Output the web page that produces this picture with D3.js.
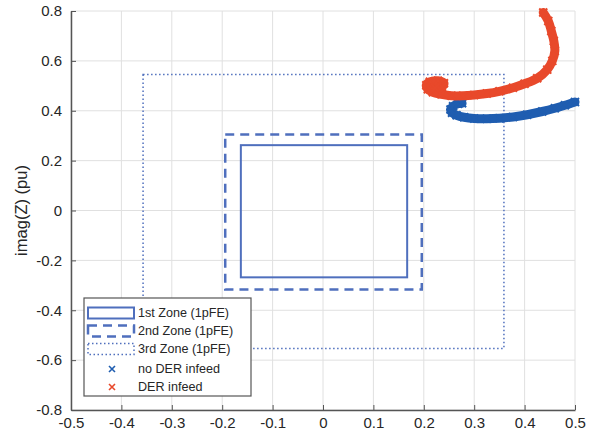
<!DOCTYPE html>
<html>
<head>
<meta charset="utf-8">
<script src="https://cdn.jsdelivr.net/npm/d3@7"></script>
<style>
  html, body { margin: 0; padding: 0; background: #fff; }
  svg { display: block; font-family: "Liberation Sans", Arial, Helvetica, sans-serif; }
</style>
</head>
<body>
<svg id="chart" width="593" height="441"></svg>
<script>
// Tick values
const xTicks = [-0.5, -0.4, -0.3, -0.2, -0.1, 0, 0.1, 0.2, 0.3, 0.4, 0.5];
const yTicks = [-0.8, -0.6, -0.4, -0.2, 0, 0.2, 0.4, 0.6, 0.8];

// Protection zones (rectangles in the impedance plane)
const zoneNames = ["1st Zone (1pFE)", "2nd Zone (1pFE)", "3rd Zone (1pFE)"];
const zoneReMin = [-0.163, -0.194, -0.357];
const zoneReMax = [0.167, 0.196, 0.359];
const zoneImMin = [-0.268, -0.317, -0.553];
const zoneImMax = [0.262, 0.305, 0.545];

// Apparent impedance trajectories
const seriesNames = ["no DER infeed", "DER infeed"];
const blueRe = [0.500, 0.480, 0.460, 0.435, 0.405, 0.377, 0.350, 0.325, 0.300, 0.280, 0.265, 0.256, 0.253, 0.258, 0.268, 0.276];
const blueIm = [0.435, 0.422, 0.410, 0.397, 0.384, 0.375, 0.370, 0.368, 0.369, 0.374, 0.382, 0.392, 0.405, 0.418, 0.428, 0.430];
const redRe = [0.437, 0.447, 0.453, 0.458, 0.460, 0.455, 0.445, 0.425, 0.400, 0.377, 0.350, 0.325, 0.300, 0.278, 0.255, 0.235, 0.218, 0.208, 0.205, 0.212, 0.228, 0.240, 0.236, 0.222];
const redIm = [0.794, 0.760, 0.720, 0.680, 0.640, 0.600, 0.565, 0.530, 0.508, 0.492, 0.478, 0.469, 0.463, 0.460, 0.460, 0.466, 0.474, 0.486, 0.502, 0.516, 0.520, 0.510, 0.496, 0.492];

const zoneColor = "#4f6fbd";
const blue = "#1f5db0";
const red = "#e8492b";
const axisColor = "#555";
const textColor = "#262626";
const tickFont = 15;
const titleFont = 16.5;
const legendFont = 12.6;

const svg = d3.select("#chart");
svg.append("rect").attr("width", 593).attr("height", 441).attr("fill", "#fff");

const x = d3.scaleLinear().domain([-0.5, 0.5]).range([71, 575]);
const y = d3.scaleLinear().domain([-0.8, 0.8]).range([410, 11]);

// Grid
const grid = svg.append("g");
grid.selectAll(".gx").data(xTicks).enter().append("line")
  .attr("x1", d => x(d)).attr("x2", d => x(d))
  .attr("y1", y(-0.8)).attr("y2", y(0.8))
  .attr("stroke", "#e0e0e0").attr("stroke-width", 1);
grid.selectAll(".gy").data(yTicks).enter().append("line")
  .attr("x1", x(-0.5)).attr("x2", x(0.5))
  .attr("y1", d => y(d)).attr("y2", d => y(d))
  .attr("stroke", "#e0e0e0").attr("stroke-width", 1);

// Zones
const zoneDash = [null, "9,6", "1.5,2.5"];
const zoneWidth = [2, 2.5, 1.5];
zoneNames.forEach((n, i) => {
  svg.append("rect")
    .attr("x", x(zoneReMin[i])).attr("y", y(zoneImMax[i]))
    .attr("width", x(zoneReMax[i]) - x(zoneReMin[i]))
    .attr("height", y(zoneImMin[i]) - y(zoneImMax[i]))
    .attr("fill", "none").attr("stroke", zoneColor)
    .attr("stroke-width", zoneWidth[i])
    .attr("stroke-dasharray", zoneDash[i]);
});

// Trajectories
const line = d3.line().x(d => x(d[0])).y(d => y(d[1])).curve(d3.curveCatmullRom);
const crossPath = s => `M${-s},${-s}L${s},${s}M${-s},${s}L${s},${-s}`;
function drawSeries(re, im, color) {
  const pts = re.map((v, i) => [v, im[i]]);
  svg.append("path").datum(pts).attr("d", line)
    .attr("fill", "none").attr("stroke", color)
    .attr("stroke-width", 9).attr("stroke-linecap", "round").attr("stroke-linejoin", "round");
  svg.append("g").selectAll("path").data(pts).enter().append("path")
    .attr("transform", d => `translate(${x(d[0])},${y(d[1])})`)
    .attr("d", crossPath(4)).attr("stroke", color).attr("stroke-width", 2).attr("fill", "none");
}
drawSeries(blueRe, blueIm, blue);
drawSeries(redRe, redIm, red);

// Axes (left and bottom, ticks pointing inward), labels with plain hyphen minus
const fmt = d => d === 0 ? "0" : String(+d.toFixed(1));
const xAxis = d3.axisBottom(x).tickValues(xTicks).tickSizeInner(-5).tickSizeOuter(0).tickFormat(fmt);
const yAxis = d3.axisLeft(y).tickValues(yTicks).tickSizeInner(-5).tickSizeOuter(0).tickFormat(fmt);

const gx = svg.append("g").attr("transform", `translate(0,${y(-0.8)})`).call(xAxis);
const gy = svg.append("g").attr("transform", `translate(${x(-0.5)},0)`).call(yAxis);
[gx, gy].forEach(g => {
  g.select(".domain").attr("stroke", axisColor).attr("stroke-width", 1.5);
  g.selectAll(".tick line").attr("stroke", axisColor).attr("stroke-width", 1);
  g.selectAll(".tick text").attr("fill", textColor).attr("font-size", tickFont)
    .attr("font-family", "'Liberation Sans', Arial, sans-serif");
});
gx.selectAll(".tick text").attr("dy", "0.71em").attr("y", 7);
gy.selectAll(".tick text").attr("x", -9);

// Y-axis title
svg.append("text")
  .attr("transform", `translate(27,${(y(0.8) + y(-0.8)) / 2}) rotate(-90)`)
  .attr("text-anchor", "middle").attr("font-size", titleFont).attr("fill", textColor)
  .text("imag(Z) (pu)");

// Legend
const lg = svg.append("g");
lg.append("rect").attr("x", 84).attr("y", 298).attr("width", 167).attr("height", 98)
  .attr("fill", "#fff").attr("stroke", axisColor).attr("stroke-width", 1.2);
const rowY = [313, 331, 349, 369, 387];
zoneNames.forEach((n, i) => {
  lg.append("rect").attr("x", 88).attr("y", rowY[i] - 5.5).attr("width", 46).attr("height", 11)
    .attr("fill", "none").attr("stroke", zoneColor)
    .attr("stroke-width", zoneWidth[i]).attr("stroke-dasharray", zoneDash[i]);
  lg.append("text").attr("x", 138).attr("y", rowY[i]).attr("dy", "0.35em")
    .attr("font-size", legendFont).attr("fill", textColor).text(n);
});
seriesNames.forEach((n, i) => {
  const c = i === 0 ? blue : red;
  lg.append("path").attr("transform", `translate(112,${rowY[3 + i]})`)
    .attr("d", crossPath(3)).attr("stroke", c).attr("stroke-width", 1.6).attr("fill", "none");
  lg.append("text").attr("x", 138).attr("y", rowY[3 + i]).attr("dy", "0.35em")
    .attr("font-size", legendFont).attr("fill", textColor).text(n);
});
</script>
</body>
</html>
